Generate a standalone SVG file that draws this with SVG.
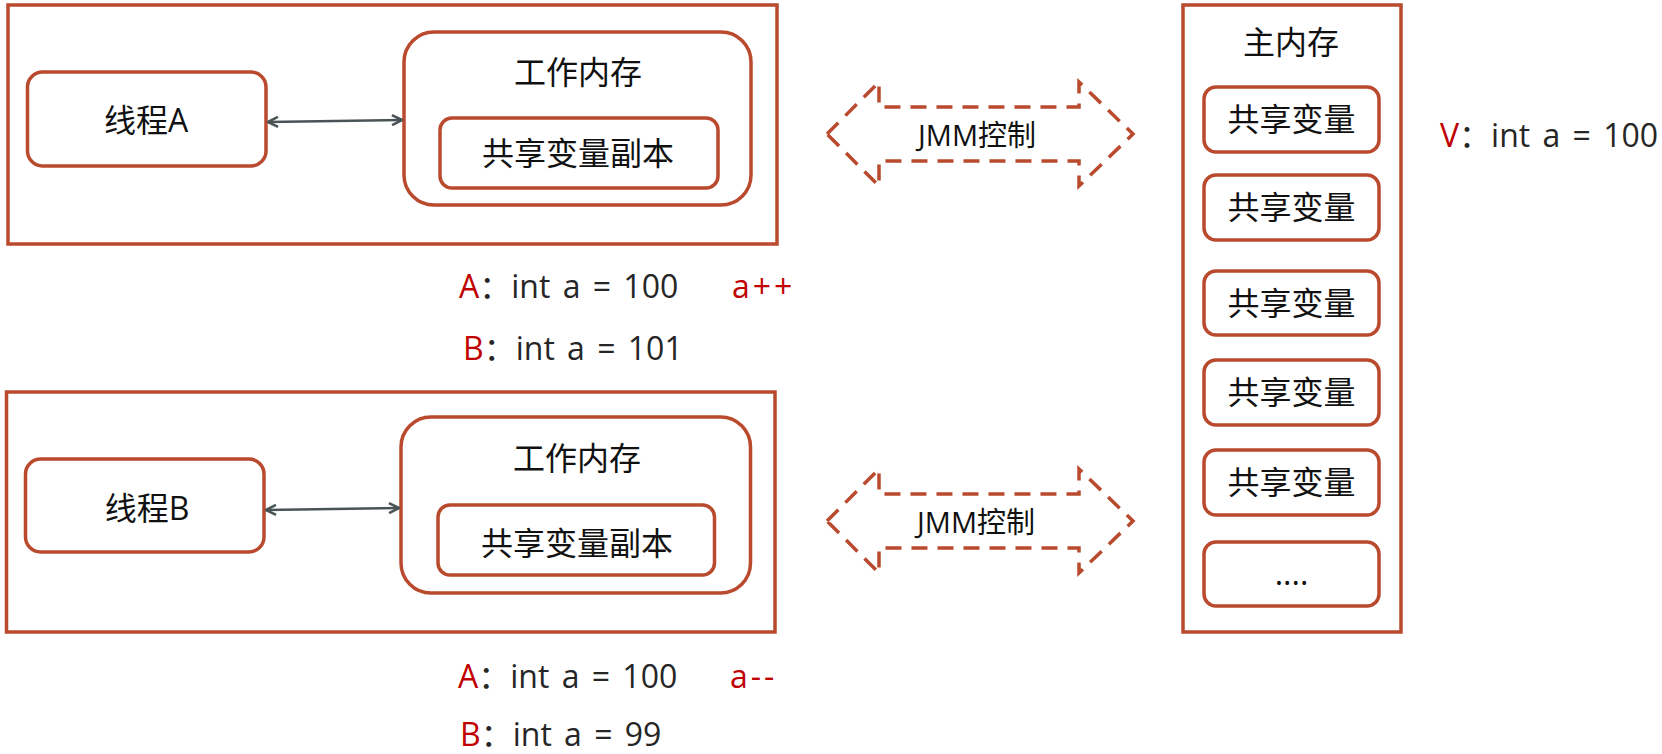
<svg xmlns="http://www.w3.org/2000/svg" width="1662" height="754" viewBox="0 0 1662 754">
<style>
  .frame{fill:#fff;stroke:#B94A2E;stroke-width:3.5}
  .box{fill:#fff;stroke:#B94A2E;stroke-width:3.5}
  .lbl{font-family:"Open Sans","Noto Sans CJK SC",sans-serif;font-size:32px;fill:#111;text-anchor:middle}
  .code{font-family:"Open Sans","Noto Sans CJK SC",sans-serif;font-size:32px;fill:#262626;word-spacing:4px}
  .red{fill:#C00000}
  .op{letter-spacing:3px}
  .jmm{fill:none;stroke:#B94A2E;stroke-width:3.5;stroke-dasharray:16 10}
  .jmmt{font-family:"Open Sans","Noto Sans CJK SC",sans-serif;font-size:29px;fill:#111;text-anchor:middle}
  .link{stroke:#4A5456;stroke-width:2.5;fill:none}
</style>
<defs>
  <marker id="chev" viewBox="0 0 12 12" refX="11" refY="6" markerWidth="12" markerHeight="12" markerUnits="userSpaceOnUse" orient="auto-start-reverse">
    <path d="M1,1 L11,6 L1,11" fill="none" stroke="#4A5456" stroke-width="2.5"/>
  </marker>
</defs>
<rect width="1662" height="754" fill="#fff"/>

<g id="threadA-frame">
  <rect class="frame" x="8" y="5" width="769" height="239"/>
</g>
<g id="threadA">
  <rect class="box" x="27.5" y="72" width="238.5" height="94" rx="15"/>
  <text class="lbl" x="146" y="132">线程A</text>
</g>
<g id="workmemA">
  <rect class="box" x="404" y="32" width="347" height="173" rx="30"/>
  <text class="lbl" x="578" y="84">工作内存</text>
</g>
<g id="copyA">
  <rect class="box" x="440" y="118" width="278" height="70" rx="12"/>
  <text class="lbl" x="578" y="165">共享变量副本</text>
</g>

<g id="threadB-frame">
  <rect class="frame" x="6.5" y="392" width="768.5" height="240"/>
</g>
<g id="threadB">
  <rect class="box" x="25.5" y="459" width="238.5" height="93" rx="15"/>
  <text class="lbl" x="147" y="520">线程B</text>
</g>
<g id="workmemB">
  <rect class="box" x="401" y="417" width="349.5" height="176" rx="30"/>
  <text class="lbl" x="577" y="470">工作内存</text>
</g>
<g id="copyB">
  <rect class="box" x="438" y="505" width="276.5" height="70" rx="12"/>
  <text class="lbl" x="577" y="555">共享变量副本</text>
</g>

<g id="mainmem">
  <rect class="frame" x="1183" y="5" width="218" height="627"/>
  <text class="lbl" x="1291" y="54">主内存</text>
</g>
<g id="var1"><rect class="box" x="1204" y="87" width="175" height="65" rx="12"/><text class="lbl" x="1291.5" y="131">共享变量</text></g>
<g id="var2"><rect class="box" x="1204" y="175" width="175" height="65" rx="12"/><text class="lbl" x="1291.5" y="219">共享变量</text></g>
<g id="var3"><rect class="box" x="1204" y="271" width="175" height="64" rx="12"/><text class="lbl" x="1291.5" y="315">共享变量</text></g>
<g id="var4"><rect class="box" x="1204" y="360" width="175" height="65" rx="12"/><text class="lbl" x="1291.5" y="404">共享变量</text></g>
<g id="var5"><rect class="box" x="1204" y="450" width="175" height="65" rx="12"/><text class="lbl" x="1291.5" y="494">共享变量</text></g>
<g id="var6"><rect class="box" x="1204" y="542" width="175" height="64" rx="12"/><text class="lbl" x="1291.5" y="585">....</text></g>

<g id="connectors">
  <line class="link" x1="268" y1="122" x2="402" y2="120" marker-start="url(#chev)" marker-end="url(#chev)"/>
  <line class="link" x1="266" y1="510" x2="399" y2="508" marker-start="url(#chev)" marker-end="url(#chev)"/>
  <path class="jmm" d="M827,134 L879,82 L879,107 L1079,107 L1079,82 L1133,134 L1079,186 L1079,161 L879,161 L879,186 Z"/>
  <path class="jmm" d="M827,521 L879,469 L879,494 L1079,494 L1079,469 L1133,521 L1079,573 L1079,548 L879,548 L879,573 Z"/>
  <text class="jmmt" x="977" y="146">JMM控制</text>
  <text class="jmmt" x="976" y="533">JMM控制</text>
</g>

<g id="notes">
  <text class="code" x="459" y="298"><tspan class="red">A</tspan>：int a = 100</text>
  <text class="code red op" x="732" y="298">a++</text>
  <text class="code" x="463" y="360"><tspan class="red">B</tspan>：int a = 101</text>
  <text class="code" x="458" y="688"><tspan class="red">A</tspan>：int a = 100</text>
  <text class="code red op" x="730" y="688">a--</text>
  <text class="code" x="460" y="746"><tspan class="red">B</tspan>：int a = 99</text>
  <text class="code" x="1440" y="147"><tspan class="red">V</tspan>：int a = 100</text>
</g>
</svg>
